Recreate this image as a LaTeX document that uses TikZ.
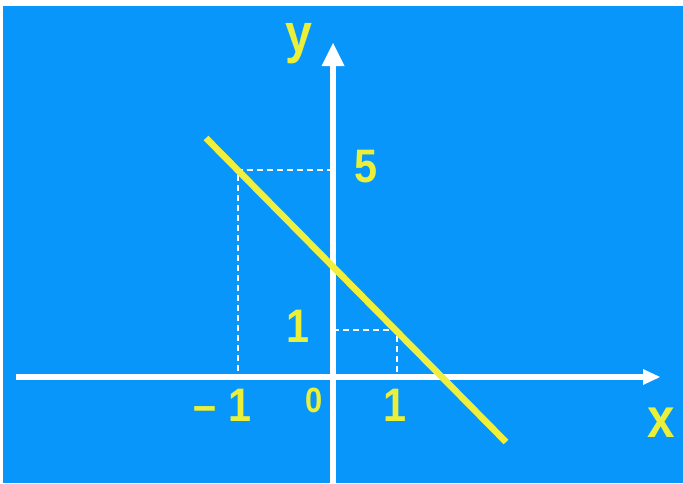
\documentclass[tikz,border=0pt]{standalone}
\usepackage{fontspec}
\setmainfont{Liberation Sans}
\usetikzlibrary{arrows.meta}
\definecolor{bgblue}{RGB}{8,150,250}
\definecolor{lineyel}{RGB}{240,240,60}
\definecolor{labyel}{RGB}{234,240,58}
\tikzset{
  axis/.style={draw=white, line width=6.5pt},
  graphline/.style={draw=lineyel, line width=6.5pt},
  guide/.style={draw=white, line width=1.4pt, dash pattern=on 6pt off 4pt},
  lab/.style={text=labyel, inner sep=0pt, anchor=base, font=\fontsize{47}{47}\selectfont\bfseries, xscale=0.88},
}
\begin{document}
\begin{tikzpicture}[x=1pt,y=-1pt]
\useasboundingbox (0,0) rectangle (683,483);
\fill[white] (0,0) rectangle (683,483);
\fill[bgblue] (3,6) rectangle (683,483);
% axes
\coordinate (xs) at (16,377);
\coordinate (xe) at (660,377);
\coordinate (ys) at (333,483);
\coordinate (ye) at (333,43);
\coordinate (O) at (333,377);
% guide points
\coordinate (pA) at (238,170);
\coordinate (pAy) at (333,170);
\coordinate (pAx) at (238,377);
\coordinate (pB) at (397,330);
\coordinate (pBy) at (333,330);
\coordinate (pBx) at (397,377);
\draw[guide] (pAy) -- (pA) -- (pAx);
\draw[guide] (pBy) -- (pB) -- (pBx);
\draw[axis, -{Triangle[length=17pt,width=16pt,line width=0pt]}] (xs) -- (xe);
\draw[axis, -{Triangle[length=23pt,width=23pt,line width=0pt]}] (ys) -- (ye);
% graph
\coordinate (gs) at (206,138);
\coordinate (ge) at (506,442);
\draw[graphline] (gs) -- (ge);
% labels
\node[lab] (l5) at (366,182) {5};
\node[lab] (l1y) at (298,342) {1};
\node[lab, anchor=base west] (lm1) at (193,421) {–\hspace{14pt}1};
\node[lab, font=\fontsize{35}{35}\selectfont\bfseries] (l0) at (314,412) {0};
\node[lab] (l1x) at (395,421) {1};
\node[lab, font=\fontsize{55}{55}\selectfont\bfseries] (ly) at (299,52) {y};
\node[lab, font=\fontsize{56}{56}\selectfont\bfseries] (lx) at (661,437) {x};
\end{tikzpicture}
\end{document}
